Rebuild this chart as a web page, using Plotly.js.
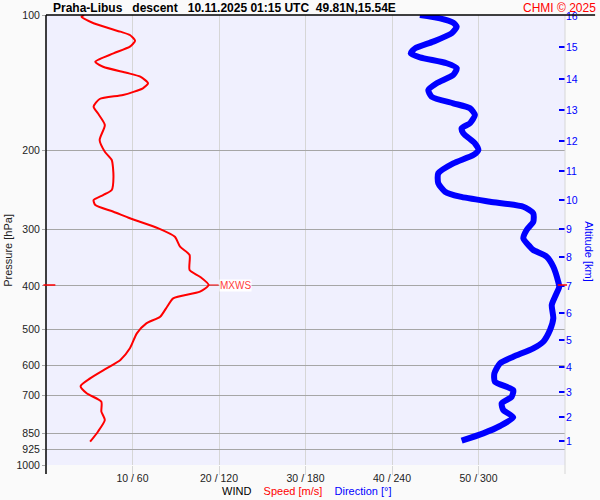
<!DOCTYPE html>
<html>
<head>
<meta charset="utf-8">
<script src="https://cdn.plot.ly/plotly-3.0.1.min.js"></script>
<style>html,body{margin:0;padding:0;background:#fafafa;}#chart{width:600px;height:500px;}</style>
</head>
<body>
<div id="chart"></div>
<script>
// ---- data ----
const pressureTicks = [100, 200, 300, 400, 500, 600, 700, 850, 925, 1000];
const speedTicks = [10, 20, 30, 40, 50];
const speedTickText = ["10 / 60", "20 / 120", "30 / 180", "40 / 240", "50 / 300"];
const altitudeKm = [1, 2, 3, 4, 5, 6, 7, 8, 9, 10, 11, 12, 13, 14, 15, 16];
const altitudePressure = [884.5, 782.2, 688.2, 605.8, 527.6, 459.5, 400.3, 344.9, 298.9, 257.8, 222.2, 190.5, 162.6, 138.8, 117.8, 100.5];

// wind speed [m/s] vs pressure [hPa]
const speedP = [100, 100.9, 104.3, 108.9, 110.8, 114.1, 117.6, 121.7, 127.0, 130.3, 134.4, 137.1, 141.8, 145.5, 150.6, 153.7, 159.9, 165.4, 175.6, 189.6, 201.3, 210.0, 228.8, 244.9, 251.2, 257.8, 264.4, 273.6, 282.9, 297.9, 311.0, 327.3, 341.5, 368.8, 381.6, 398.1, 412.0, 426.2, 444.9, 468.3, 484.4, 509.8, 550.5, 584.3, 609.9, 641.9, 667.7, 692.8, 723.2, 761.1, 794.3, 843.3, 887.6];
const speedV = [4.4, 4.1, 5.5, 8.6, 9.7, 10.3, 9.7, 7.8, 5.7, 6.6, 9.3, 10.9, 11.8, 11.2, 8.9, 6.2, 5.5, 6.0, 6.8, 6.2, 6.8, 7.6, 7.8, 7.6, 6.6, 5.5, 5.7, 7.8, 9.7, 13.0, 14.9, 15.5, 16.6, 16.6, 17.8, 18.8, 17.8, 14.7, 14.0, 13.2, 11.6, 10.5, 9.7, 8.6, 7.0, 5.1, 4.0, 4.7, 6.4, 6.4, 6.8, 6.0, 5.1];

// wind direction [deg] vs pressure [hPa]
const dirP = [100, 101.7, 104.0, 106.2, 109.8, 114.6, 118.6, 121.7, 124.2, 128.0, 131.3, 135.9, 141.8, 146.8, 151.9, 157.1, 161.2, 166.8, 174.0, 178.5, 183.2, 192.8, 199.5, 204.7, 213.6, 224.7, 236.6, 247.0, 253.4, 260.0, 266.7, 275.9, 288.0, 300.4, 313.5, 327.3, 332.9, 344.4, 362.5, 391.4, 401.8, 422.7, 441.1, 472.1, 501.2, 532.1, 550.5, 574.6, 594.3, 625.7, 653.2, 681.3, 705.1, 729.4, 754.7, 783.4, 819.1, 850.5, 883.1];
const dirDeg = [259.4, 273.3, 282.5, 284.9, 281.4, 268.6, 256.0, 253.0, 259.4, 277.9, 284.9, 282.5, 271.0, 265.2, 267.5, 282.5, 294.1, 297.5, 294.1, 288.3, 289.5, 297.5, 299.9, 296.4, 282.5, 272.1, 272.1, 276.8, 287.2, 308.0, 331.1, 338.0, 338.0, 333.4, 331.1, 335.7, 338.0, 347.3, 351.9, 355.3, 356.0, 353.1, 350.8, 351.9, 349.6, 344.9, 338.0, 324.1, 314.9, 311.0, 311.4, 324.1, 323.0, 316.1, 317.2, 324.1, 314.9, 303.3, 288.3];

// ---- derived ----
let iMax = 0;
speedV.forEach((v, i) => { if (v > speedV[iMax]) iMax = i; });
const vMax = speedV[iMax], pMax = speedP[iMax];

const FONT = "Liberation Sans, Arial, sans-serif";
const NB = "\u00a0";

const traces = [
  {x: dirDeg, y: dirP, xaxis: "x2", yaxis: "y", type: "scatter", mode: "lines",
   line: {color: "#0000ff", width: 6, shape: "spline", smoothing: 0.6}, hoverinfo: "skip"},
  {x: speedV, y: speedP, xaxis: "x", yaxis: "y", type: "scatter", mode: "lines",
   line: {color: "#ff0000", width: 2, shape: "spline", smoothing: 0.6}, hoverinfo: "skip"},
  {x: [null], y: [null], xaxis: "x", yaxis: "y2", type: "scatter", mode: "lines", showlegend: false}
];

const layout = {
  width: 600, height: 500,
  margin: {l: 46, r: 35, t: 15, b: 35, pad: 0},
  paper_bgcolor: "#fafafa",
  plot_bgcolor: "#f0f0fe",
  showlegend: false,
  font: {family: FONT, size: 10.5, color: "#222"},
  xaxis: {range: [0, 60], tickvals: speedTicks, ticktext: speedTickText,
          showgrid: true, gridcolor: "#d6d6d6", gridwidth: 1, zeroline: false, showline: false,
          ticks: "outside", ticklen: 9, tickcolor: "#d6d6d6", ticklabelstandoff: -6,
          tickfont: {size: 10.5, color: "#222"}},
  xaxis2: {range: [0, 360], overlaying: "x", visible: false},
  yaxis: {type: "log", range: [3, 2], tickvals: pressureTicks, ticktext: pressureTicks.map(String),
          showgrid: true, gridcolor: "#a6a6a6", gridwidth: 1, zeroline: false, showline: false,
          ticks: "outside", ticklen: 3, tickcolor: "#a6a6a6", tickfont: {size: 10.5, color: "#222"}},
  yaxis2: {type: "log", range: [3, 2], overlaying: "y", side: "right",
           tickvals: altitudePressure, ticktext: altitudeKm.map(String),
           showgrid: false, zeroline: false, showline: false,
           ticks: "inside", ticklen: 6, tickwidth: 2, tickcolor: "#0000ff",
           tickfont: {size: 10.5, color: "#0000ff"}},
  shapes: [
    {type: "line", xref: "paper", yref: "paper", x0: 0, x1: 0, y0: -0.02, y1: 1, line: {color: "#000", width: 1.5}},
    {type: "line", xref: "paper", yref: "paper", x0: 1, x1: 1, y0: -0.02, y1: 1, line: {color: "#d6d6d6", width: 1}},
    {type: "line", xref: "paper", yref: "paper", x0: 0, x1: 1.058, y0: 1, y1: 1, line: {color: "#000", width: 1.5}},
    {type: "line", xref: "paper", yref: "y", x0: -0.005, x1: 0.018, y0: pMax, y1: pMax, line: {color: "#ff0000", width: 1.5}},
    {type: "line", xref: "paper", yref: "y", x0: 0.986, x1: 1.004, y0: pMax, y1: pMax, line: {color: "#ff0000", width: 1.5}}
  ],
  annotations: [
    {xref: "paper", yref: "paper", x: 0.0096, y: 1.0156, xanchor: "left", yanchor: "middle", showarrow: false,
     text: "<b>Praha-Libus" + NB+NB+NB + "descent" + NB+NB+NB + "10.11.2025 01:15 UTC" + NB+NB + "49.81N,15.54E</b>",
     font: {family: FONT, size: 12, color: "#000"}},
    {xref: "paper", yref: "paper", x: 1.0636, y: 1.0156, xanchor: "right", yanchor: "middle", showarrow: false,
     text: "CHMI © 2025", font: {family: FONT, size: 12, color: "#ff0000"}},
    {xref: "paper", yref: "paper", x: -0.0732, y: 0.476, xanchor: "center", yanchor: "middle", showarrow: false,
     textangle: -90, text: "Pressure [hPa]", font: {family: FONT, size: 11, color: "#222"}},
    {xref: "paper", yref: "paper", x: 1.046, y: 0.473, xanchor: "center", yanchor: "middle", showarrow: false,
     textangle: 90, text: "Altitude [km]", font: {family: FONT, size: 11, color: "#0000ff"}},
    {xref: "paper", yref: "paper", x: 0.502, y: -0.058, xanchor: "center", yanchor: "middle", showarrow: false,
     text: "WIND" + NB+NB+NB+NB + "<span style='color:#ff0000'>Speed [m/s]</span>" + NB+NB+NB+NB + "<span style='color:#0000ff'>Direction [°]</span>",
     font: {family: FONT, size: 11, color: "#000"}},
    {xref: "x", yref: "y", x: vMax, y: Math.log10(pMax), showarrow: true, arrowhead: 0, arrowwidth: 1,
     arrowcolor: "#ff0000", ax: 10, ay: 0, standoff: 0, xanchor: "left", yanchor: "middle",
     text: "MXWS", bgcolor: "#ffffff", borderpad: 0, font: {family: FONT, size: 10, color: "#ff4040"}}
  ]
};

Plotly.newPlot("chart", traces, layout, {staticPlot: true, displayModeBar: false});
</script>
</body>
</html>
